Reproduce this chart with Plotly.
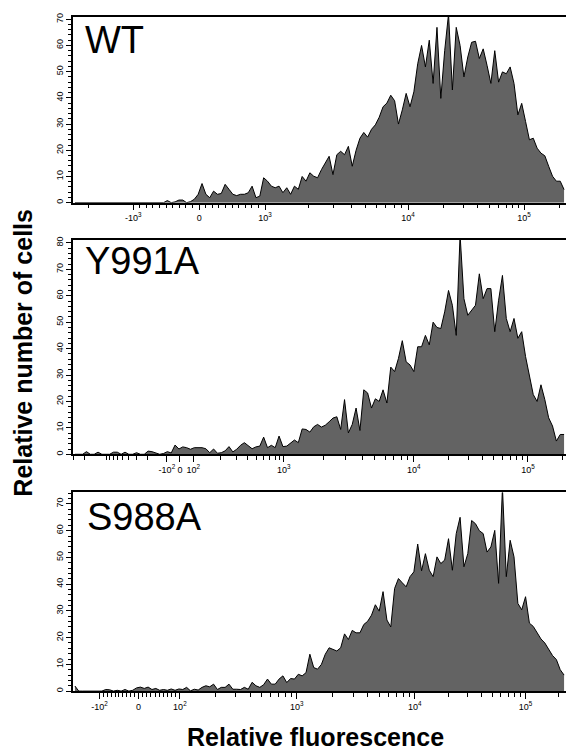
import numpy as np
import plotly.graph_objects as go

# ---------------- data (histogram counts per display channel bin) ----------------
N_CHANNELS = 1024
BIN_WIDTH = 8
bin_centers = np.arange(N_CHANNELS // BIN_WIDTH) * BIN_WIDTH + BIN_WIDTH / 2

wt_counts = [
    0, 0, 0, 0, 0, 0, 0, 0,                          # 0-7
    0, 0, 0, 0, 0, 0, 0, 0,                          # 8-15
    0, 0, 0, 0, 0, 0, 0, 0,                          # 16-23
    0.8, 0, 0.3, 1.0, 1.0, 0, 0.4, 1.3,              # 24-31
    3.2, 7.3, 3.2, 1.9, 4.4, 3.2, 3.5, 7.0,          # 32-39
    5.1, 3.2, 2.7, 3.2, 3.2, 3.8, 6.3, 1.9,          # 40-47
    2.5, 9.5, 8.2, 6.3, 5.7, 6.3, 3.8, 5.7,          # 48-55
    3.2, 6.3, 5.1, 10.0, 8.2, 11.4, 10.1, 9.5,       # 56-63
    12.6, 15.2, 17.7, 10.7, 18.3, 19.6, 18.3, 21.5,  # 64-71
    13.9, 20.0, 24.6, 26.8, 25.0, 28.0, 29.7, 32.6,  # 72-79
    36.6, 38.0, 41.0, 38.9, 30.0, 35.4, 41.7, 36.6,  # 80-87
    42.3, 53.0, 60.0, 51.8, 62.0, 45.5, 66.9, 39.8,  # 88-95
    58.0, 72.0, 43.0, 66.9, 60.0, 48.0, 55.6, 61.2,  # 96-103
    61.6, 55.0, 58.7, 52.4, 45.5, 58.0, 46.0, 49.9,  # 104-111
    49.2, 51.8, 45.5, 33.5, 37.9, 31.0, 24.0, 24.6,  # 112-119
    20.8, 18.9, 17.9, 13.9, 10.1, 8.2, 8.2, 5.0,     # 120-127
]

y991a_counts = [
    0, 0, 0, 1.0, 0, 0, 0.8, 0,                      # 0-7
    0, 0, 0.8, 0.8, 0, 0.8, 0, 0,                    # 8-15
    0.6, 0, 0, 1.2, 1.0, 0.5, 0, 0.3,                # 16-23
    1.0, 0.5, 3.5, 2.0, 2.8, 2.5, 1.9, 2.5,          # 24-31
    2.5, 2.5, 2.1, 0.6, 2.0, 0.4, 0.6, 1.3,          # 32-39
    2.9, 0.9, 1.9, 3.4, 4.4, 3.1, 2.1, 2.8,          # 40-47
    3.1, 6.5, 2.5, 3.4, 2.5, 6.9, 2.9, 3.1,          # 48-55
    4.4, 5.4, 4.4, 9.6, 9.4, 8.4, 10.4, 11.3,        # 56-63
    10.3, 11.0, 12.3, 13.7, 14.2, 9.4, 20.7, 8.1,    # 64-71
    11.3, 17.5, 9.0, 24.4, 23.2, 17.5, 21.0, 20.0,   # 72-79
    24.4, 19.4, 33.0, 31.3, 36.3, 43.0, 35.0, 33.8,  # 80-87
    31.3, 40.7, 40.7, 45.0, 41.4, 50.0, 48.0, 47.6,  # 88-95
    53.9, 62.0, 56.4, 45.0, 83.0, 58.9, 52.6, 54.5,  # 96-103
    56.4, 68.3, 58.9, 62.7, 62.7, 46.4, 58.3, 67.7,  # 104-111
    51.4, 46.4, 51.4, 43.9, 46.4, 37.0, 29.4, 22.6,  # 112-119
    20.0, 26.3, 20.7, 13.8, 10.7, 5.0, 7.5, 7.5,     # 120-127
]

s988a_counts = [
    1.9, 0, 0, 0, 0, 0, 0, 0,                        # 0-7
    0.6, 0.5, 0, 0.3, 0, 0.6, 0, 0.3,                # 8-15
    1.2, 1.5, 1.0, 1.5, 0.6, 1.0, 0.3, 0.6,          # 16-23
    0.3, 0.8, 0.3, 0.8, 0.6, 1.4, 0.1, 0.7,          # 24-31
    0.4, 1.4, 2.0, 1.6, 2.6, 0.6, 1.4, 1.4,          # 32-39
    2.6, 0.7, 0.7, 0.6, 1.4, 0.7, 3.3, 2.0,          # 40-47
    1.4, 2.4, 4.5, 2.6, 2.6, 4.5, 5.7, 3.2,          # 48-55
    4.7, 4.5, 6.3, 5.7, 6.9, 13.8, 8.8, 8.2,         # 56-63
    10.0, 13.8, 16.2, 15.6, 15.0, 16.2, 21.4, 19.3,  # 64-71
    22.7, 21.8, 21.8, 24.9, 26.1, 28.4, 32.3, 29.9,  # 72-79
    37.2, 26.6, 24.0, 38.4, 42.1, 40.5, 39.0, 42.8,  # 80-87
    44.6, 55.0, 45.0, 51.4, 45.2, 42.8, 50.2, 47.7,  # 88-95
    49.0, 57.0, 45.2, 58.9, 65.0, 46.5, 51.4, 63.8,  # 96-103
    62.6, 60.0, 58.9, 52.0, 53.9, 60.1, 40.3, 76.0,  # 104-111
    42.8, 56.4, 50.2, 32.8, 30.4, 35.3, 25.4, 24.2,  # 112-119
    21.9, 19.5, 18.0, 15.5, 13.3, 11.8, 8.0, 6.0,    # 120-127
]

panel_names = ["WT", "Y991A", "S988A"]
panel_counts = [wt_counts, y991a_counts, s988a_counts]
y_top = [71.0, 81.2, 74.3]
y_label_max = [70, 80, 70]

# biexponential display scale of each panel: (fluorescence value, display channel)
scale_anchors = [
    [(-1e4, -186), (-1e3, 125), (0, 262), (1e3, 399), (1e4, 696), (1e5, 937)],
    [(-1e3, 64), (-1e2, 195), (0, 222), (1e2, 250), (1e3, 438), (1e4, 708), (1e5, 945)],
    [(-1e3, -189), (-1e2, 55), (0, 136), (1e2, 222), (1e3, 465), (1e4, 710), (1e5, 940)],
]
linear_limit = [1e3, 1e2, 1e2]
linear_minor_step = [100, 100, 10]
major_values = [
    [-1e3, 0, 1e3, 1e4, 1e5],
    [-1e2, 0, 1e2, 1e3, 1e4, 1e5],
    [-1e2, 0, 1e2, 1e3, 1e4, 1e5],
]
major_labels = [
    ["-10<sup>3</sup>", "0", "10<sup>3</sup>", "10<sup>4</sup>", "10<sup>5</sup>"],
    ["-10<sup>2</sup>", "0", "10<sup>2</sup>", "10<sup>3</sup>", "10<sup>4</sup>", "10<sup>5</sup>"],
    ["-10<sup>2</sup>", "0", "10<sup>2</sup>", "10<sup>3</sup>", "10<sup>4</sup>", "10<sup>5</sup>"],
]

x_title = "Relative fluorescence"
y_title = "Relative number of cells"


def to_channel(v, anchors):
    vals = [a[0] for a in anchors]
    chs = [a[1] for a in anchors]
    seg = None
    for k in range(len(vals) - 1):
        if vals[k] <= v <= vals[k + 1]:
            seg = k
            break
    if seg is None:
        seg = 0 if v < vals[0] else len(vals) - 2
    a, b = vals[seg], vals[seg + 1]
    ca, cb = chs[seg], chs[seg + 1]
    if a > 0:
        t = (np.log10(v) - np.log10(a)) / (np.log10(b) - np.log10(a))
    elif b < 0:
        t = (np.log10(-v) - np.log10(-a)) / (np.log10(-b) - np.log10(-a))
    else:
        t = (v - a) / (b - a)
    return ca + t * (cb - ca)


def minor_values(p):
    lim = linear_limit[p]
    out = []
    for e in range(1, 6):
        for k in range(2, 10):
            v = k * 10 ** e
            if v > lim:
                out += [v, -v]
    step = linear_minor_step[p]
    out += list(np.arange(-lim + step, lim, step))
    return [v for v in out if v not in major_values[p]]


FONT = "Liberation Sans, Arial, sans-serif"
W, H = 566, 753
x_domain = [73 / W, 1.0]
# pixel rows: (top border, zero line) per panel
panel_rows = [(12.7, 200.0), (237.3, 453.3), (491.7, 691.7)]
label_pos = [(83, 35.8), (83, 259.0), (85, 516.0)]

fig = go.Figure()
layout = dict(
    width=W, height=H, autosize=False,
    margin=dict(l=0, r=0, t=0, b=0),
    paper_bgcolor="white", plot_bgcolor="white",
    showlegend=False,
    font=dict(family=FONT, color="black"),
    annotations=[],
)

for p in range(3):
    sx = "" if p == 0 else str(p + 1)
    fig.add_trace(go.Scatter(
        x=bin_centers, y=panel_counts[p],
        mode="lines", line=dict(color="black", width=1),
        fill="tozeroy", fillcolor="#636363",
        xaxis="x" + sx, yaxis="y" + sx, hoverinfo="skip",
    ))
    anchors = scale_anchors[p]
    maj_ch = [to_channel(v, anchors) for v in major_values[p]]
    min_ch = [c for c in (to_channel(v, anchors) for v in minor_values(p)) if 0 < c < N_CHANNELS]
    top, zero = panel_rows[p]
    layout["xaxis" + sx] = dict(
        domain=x_domain, anchor="y" + sx, range=[0, N_CHANNELS],
        showline=True, mirror=True, linecolor="black", linewidth=1.5,
        showgrid=False, zeroline=False,
        ticks="outside", ticklen=6, tickwidth=1, tickcolor="black",
        tickmode="array", tickvals=maj_ch, ticktext=major_labels[p], tickangle=0,
        tickfont=dict(size=9, family=FONT, color="black"),
        minor=dict(tickmode="array", tickvals=min_ch, ticks="outside",
                   ticklen=4, tickwidth=1, tickcolor="black"),
    )
    layout["yaxis" + sx] = dict(
        domain=[1 - zero / H, 1 - top / H], anchor="x" + sx, range=[0, y_top[p]],
        showline=True, linecolor="black", linewidth=1.5,
        showgrid=False, zeroline=False,
        ticks="outside", ticklen=5, tickwidth=1, tickcolor="black",
        tickmode="array", tickvals=list(range(0, y_label_max[p] + 1, 10)),
        tickangle=-90, tickfont=dict(size=9, family=FONT, color="black"),
        minor=dict(dtick=2, ticks="outside", ticklen=3, tickwidth=1, tickcolor="black"),
    )
    lx, ly = label_pos[p]
    layout["annotations"].append(dict(
        text=panel_names[p], xref="paper", yref="paper", x=lx / W, y=1 - ly / H,
        xanchor="left", yanchor="middle", showarrow=False,
        font=dict(size=38, family=FONT, color="black"),
    ))

layout["annotations"].append(dict(
    text="<b>" + y_title + "</b>", xref="paper", yref="paper",
    x=23 / W, y=1 - 351 / H, xanchor="center", yanchor="middle",
    textangle=-90, showarrow=False, font=dict(size=25, family=FONT, color="black"),
))
layout["annotations"].append(dict(
    text="<b>" + x_title + "</b>", xref="paper", yref="paper",
    x=315.5 / W, y=1 - 738 / H, xanchor="center", yanchor="middle",
    showarrow=False, font=dict(size=25, family=FONT, color="black"),
))

fig.update_layout(**layout)
fig.write_html(
    "out.html",
    config={"displayModeBar": False},
    post_script="document.body.style.margin='0';document.body.style.overflow='hidden';",
)
